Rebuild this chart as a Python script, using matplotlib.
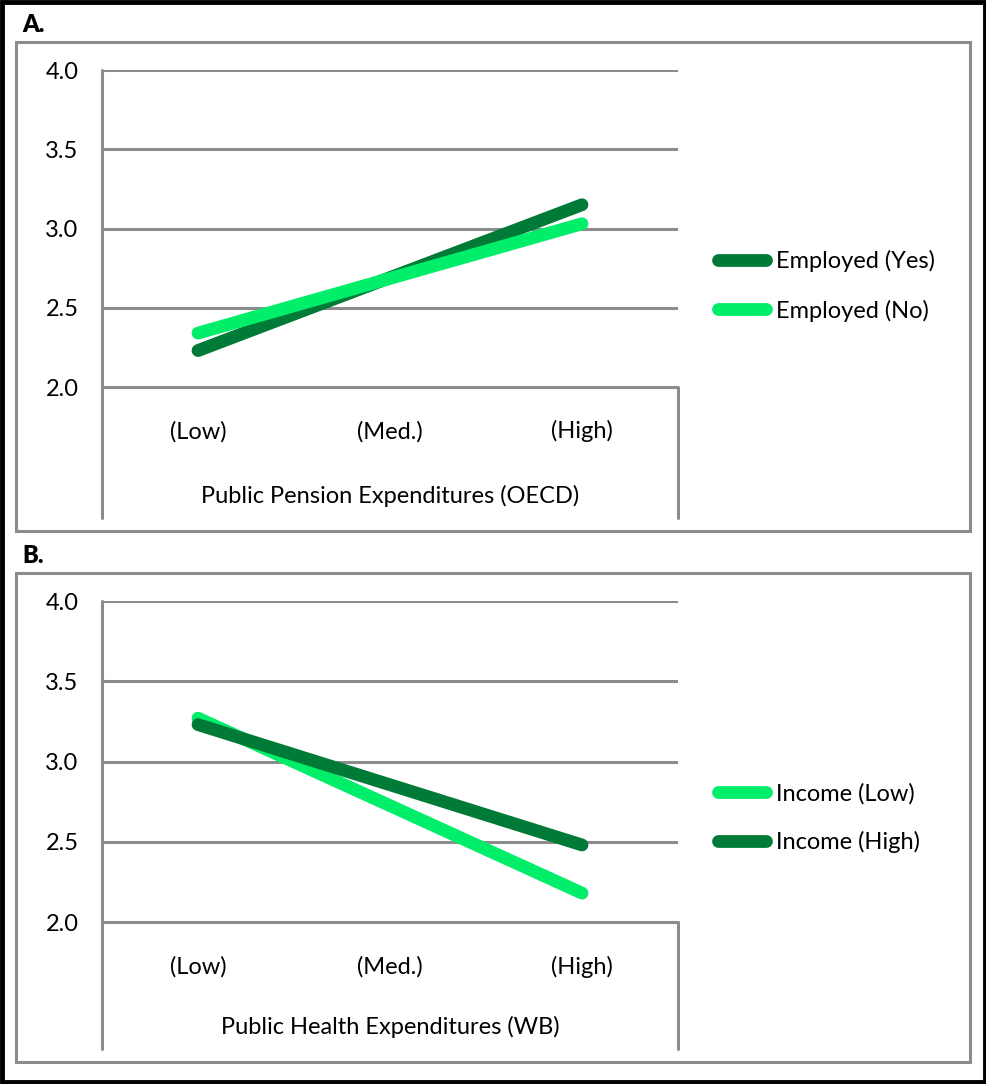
import matplotlib.pyplot as plt
from matplotlib.patches import Rectangle

plt.rcParams['font.family'] = ['Lato', 'DejaVu Sans']

W, H = 987, 1084
DARK = '#007a37'
LIGHT = '#00ee6a'
GREY = '#8c8c8c'
FS = 17

categories = ['(Low)', '(Med.)', '(High)']
y_ticks = [2.0, 2.5, 3.0, 3.5, 4.0]

# panel A: pension expenditures, only the low and high ends were estimated
pension_x = [0, 2]
employed_yes = [2.23, 3.15]
employed_no = [2.34, 3.03]

# panel B: health expenditures
health_x = [0, 2]
income_low = [3.27, 2.18]
income_high = [3.23, 2.48]


def px_box(x0, y0, x1, y1):
    # pixel box (top-left origin) -> figure fraction [left, bottom, width, height]
    return [x0 / W, 1 - y1 / H, (x1 - x0) / W, (y1 - y0) / H]


fig = plt.figure(figsize=(W / 100, H / 100), dpi=100)

# outer black frame
fig.patches.append(Rectangle((0.002, 0.002), 0.996, 0.996, transform=fig.transFigure,
                             fill=False, edgecolor='black', linewidth=3.5))


def draw_panel(letter, top, bottom, grid_top, grid_bottom, x, series, xlabel, leg_y):
    # grey panel frame
    fig.patches.append(Rectangle((16 / W, 1 - bottom / H), (970 - 16) / W, (bottom - top) / H,
                                 transform=fig.transFigure, fill=False,
                                 edgecolor=GREY, linewidth=2.2))
    fig.text(22 / W, 1 - (top - 17) / H, letter, fontsize=17, fontweight='heavy',
             ha='left', va='center')

    ax_bottom = bottom - 13
    ax = fig.add_axes(px_box(102, grid_top, 678, ax_bottom))
    per_unit = (grid_bottom - grid_top) / 2.0
    ymin = 2.0 - (ax_bottom - grid_bottom) / per_unit
    ax.set_ylim(ymin, 4.0)
    ax.set_xlim(-0.5, 2.5)
    ax.patch.set_visible(False)

    for s in ['top', 'bottom']:
        ax.spines[s].set_visible(False)
    for s in ['left', 'right']:
        ax.spines[s].set_color(GREY)
        ax.spines[s].set_linewidth(2.2)
        ax.spines[s].set_capstyle('round')
    ax.spines['left'].set_bounds(ymin, 4.0)
    ax.spines['right'].set_bounds(ymin, 2.0)

    ax.hlines(y_ticks, -0.5, 2.5, color=GREY, linewidth=2.2, zorder=1)

    ax.set_yticks(y_ticks)
    ax.set_yticklabels([f'{v:.1f}' for v in y_ticks])
    ax.tick_params(axis='y', length=0, pad=17, labelsize=FS)
    ax.set_xticks([])

    for i, c in enumerate(categories):
        ax.text(i, 1.72, c, fontsize=FS, ha='center', va='center')
    ax.text(1, ymin + 0.14, xlabel, fontsize=FS, ha='center', va='center')

    for label, vals, color in series:
        ax.plot(x, vals, color=color, linewidth=9.2, solid_capstyle='round',
                label=label, zorder=3, clip_on=False)

    ax.legend(loc='center left', bbox_to_anchor=(718 / W, 1 - leg_y / H),
              bbox_transform=fig.transFigure, frameon=False, fontsize=FS,
              handlelength=2.05, handletextpad=0.42, labelspacing=1.15,
              borderpad=0, borderaxespad=0)
    return ax


draw_panel('A.', 42, 531, 70, 387, pension_x,
           [('Employed (Yes)', employed_yes, DARK), ('Employed (No)', employed_no, LIGHT)],
           'Public Pension Expenditures (OECD)', 286)

draw_panel('B.', 573, 1062, 601, 922, health_x,
           [('Income (Low)', income_low, LIGHT), ('Income (High)', income_high, DARK)],
           'Public Health Expenditures (WB)', 818)

fig.savefig('out.png', dpi=100)
